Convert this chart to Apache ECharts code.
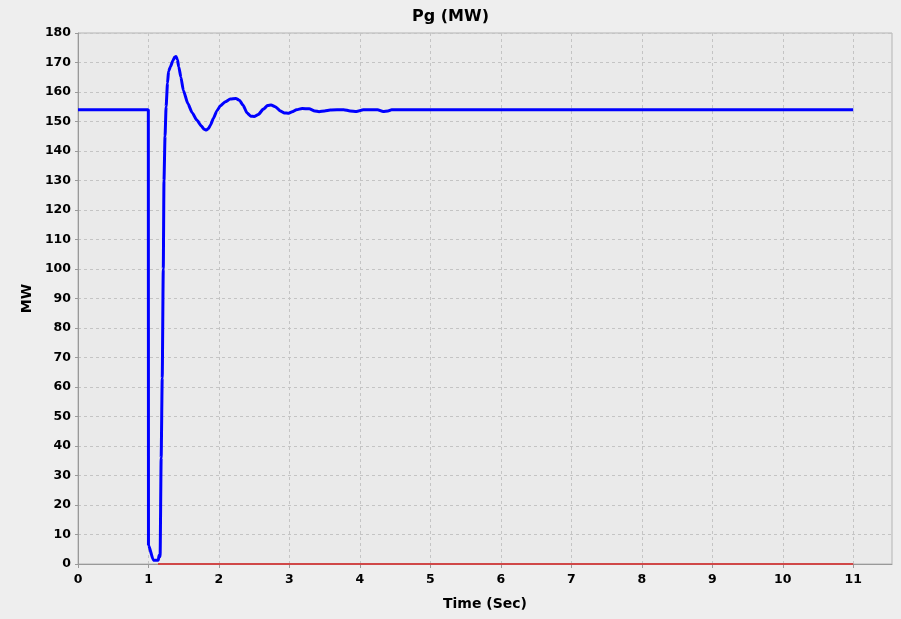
<!DOCTYPE html>
<html>
<head>
<meta charset="utf-8">
<script src="https://cdn.jsdelivr.net/npm/echarts@6/dist/echarts.min.js"></script>
<style>
  html, body { margin: 0; padding: 0; background: #eeeeee; }
  #main { width: 901px; height: 619px; }
</style>
</head>
<body>
<div id="main"></div>
<script>
// Pg (MW) 时间响应
var xTicks = [0, 1, 2, 3, 4, 5, 6, 7, 8, 9, 10, 11];
var yTicks = [0, 10, 20, 30, 40, 50, 60, 70, 80, 90, 100, 110, 120, 130, 140, 150, 160, 170, 180];

var pgTime = [0, 0.998, 1.0, 1.07, 1.14, 1.15, 1.165, 1.18, 1.195, 1.21, 1.22, 1.235, 1.25, 1.27, 1.285, 1.31, 1.35, 1.37, 1.39,
  1.41, 1.43, 1.46, 1.495, 1.56, 1.62, 1.685, 1.75, 1.79, 1.82, 1.85, 1.88, 1.92, 1.97, 2.02, 2.09, 2.16, 2.24, 2.29, 2.34, 2.4, 2.45, 2.5,
  2.56, 2.63, 2.69, 2.74, 2.8, 2.87, 2.93, 2.98, 3.04, 3.1, 3.18, 3.28, 3.36, 3.42, 3.5, 3.58, 3.77, 3.86, 3.95, 4.05, 4.25,
  4.33, 4.4, 4.45, 11];
var pgValue = [154, 154, 6.4, 1.3, 1.3, 3, 2.5, 36, 63, 100, 130, 145, 155, 163, 167, 168.5, 170.8, 171.8, 172,
  171, 168.5, 165, 160.5, 156, 153, 150.5, 148.5, 147.4, 147.1, 147.6, 148.8, 151, 153.6, 155.3, 156.7, 157.6, 157.8, 157.2, 155.6, 152.9, 151.8, 151.7,
  152.4, 154.2, 155.4, 155.6, 155, 153.6, 152.9, 152.8, 153.3, 154, 154.4, 154.3, 153.6, 153.3, 153.6, 153.9, 154, 153.6, 153.4, 154, 154,
  153.4, 153.6, 154, 154];

var refTime = [1.135, 11];
var refValue = [0, 0];

function pairs(xs, ys) {
  return xs.map(function (x, i) { return [x, ys[i]]; });
}

var myChart = echarts.init(document.getElementById('main'));
var font = 'DejaVu Sans';
var option = {
  animation: false,
  backgroundColor: '#eeeeee',
  title: {
    text: 'Pg (MW)',
    left: 'center',
    top: 4,
    textStyle: { fontFamily: font, fontSize: 16, fontWeight: 'bold', color: '#000' }
  },
  grid: {
    left: 78, top: 33, right: 9, bottom: 55,
    show: true,
    backgroundColor: '#eaeaea',
    borderColor: '#b4b4b4',
    borderWidth: 1
  },
  xAxis: {
    type: 'value',
    min: 0,
    max: 11.55,
    interval: 1,
    name: 'Time (Sec)',
    nameLocation: 'middle',
    nameGap: 33,
    nameTextStyle: { fontFamily: font, fontSize: 14, fontWeight: 'bold', color: '#000' },
    axisLine: { show: true, lineStyle: { color: '#999999' } },
    axisTick: { show: true, length: 4, customValues: xTicks, lineStyle: { color: '#999999' } },
    axisLabel: {
      customValues: xTicks,
      margin: 9,
      fontFamily: font, fontSize: 12.5, fontWeight: 'bold', color: '#000'
    },
    splitLine: { show: true, lineStyle: { color: '#c4c4c4', type: [3, 3] } }
  },
  yAxis: {
    type: 'value',
    min: 0,
    max: 180,
    interval: 10,
    name: 'MW',
    nameLocation: 'middle',
    nameGap: 44,
    nameTextStyle: { fontFamily: font, fontSize: 14, fontWeight: 'bold', color: '#000' },
    axisLine: { show: true, lineStyle: { color: '#999999' } },
    axisTick: { show: true, length: 3, customValues: yTicks, lineStyle: { color: '#999999' } },
    axisLabel: {
      customValues: yTicks,
      margin: 7,
      fontFamily: font, fontSize: 12.5, fontWeight: 'bold', color: '#000'
    },
    splitLine: { show: true, lineStyle: { color: '#c4c4c4', type: [3, 3] } }
  },
  series: [
    {
      name: 'ref',
      type: 'line',
      data: pairs(refTime, refValue),
      showSymbol: false,
      lineStyle: { color: '#d04848', width: 2 },
      z: 3
    },
    {
      name: 'Pg',
      type: 'line',
      data: pairs(pgTime, pgValue),
      showSymbol: false,
      smooth: 0.2,
      smoothMonotone: 'x',
      lineStyle: { color: '#0000ff', width: 3 },
      z: 4
    }
  ]
};
myChart.setOption(option);
</script>
</body>
</html>
